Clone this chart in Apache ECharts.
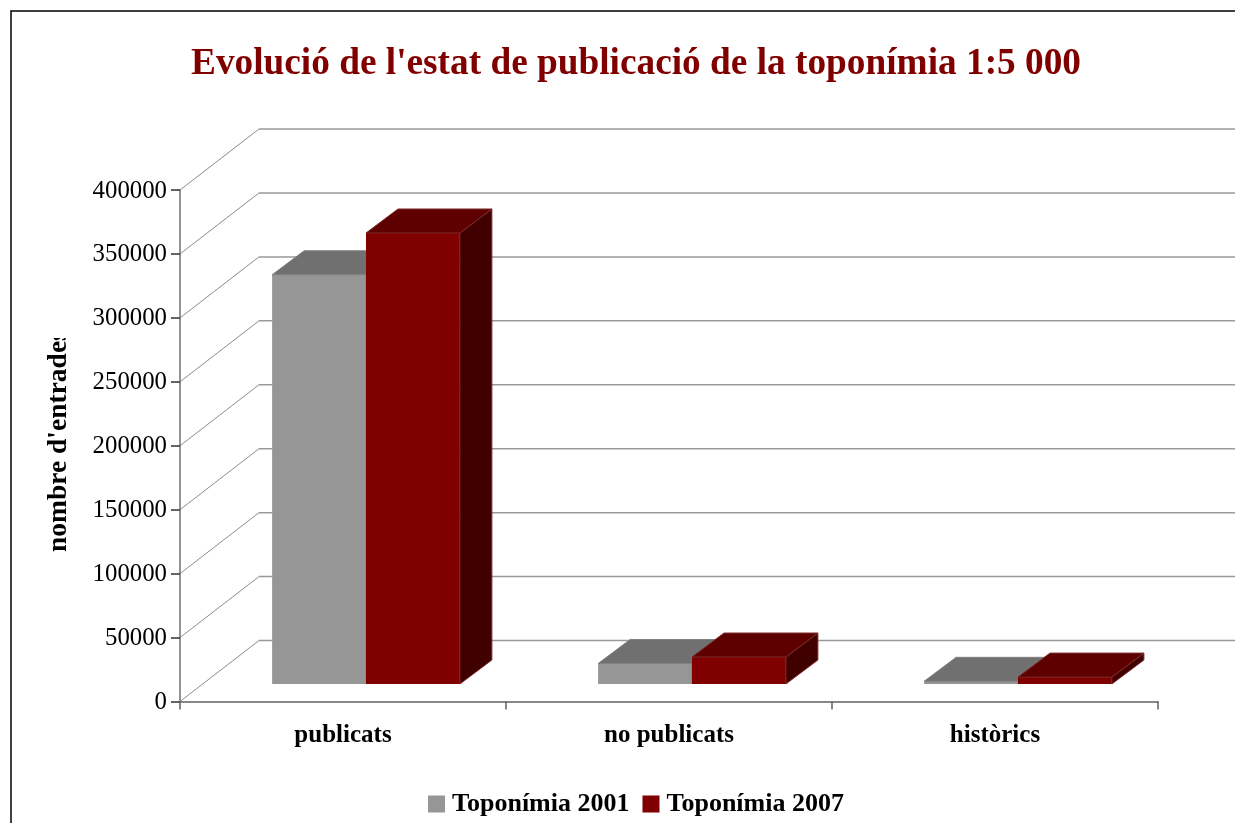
<!DOCTYPE html>
<html>
<head>
<meta charset="utf-8">
<style>
  html, body { margin: 0; padding: 0; background: #fff; overflow: hidden; }
  #chart { width: 1235px; height: 823px; }
</style>
<script src="https://cdn.jsdelivr.net/npm/echarts@6/dist/echarts.min.js"></script>
</head>
<body>
<div id="chart"></div>
<script>
const categories = ["publicats", "no publicats", "històrics"];
const toponimia2001 = [320000, 16000, 2100];
const toponimia2007 = [352700, 21100, 5400];
const yTicks = [0, 50000, 100000, 150000, 200000, 250000, 300000, 350000, 400000];

const serif = "'Liberation Serif', 'Times New Roman', serif";

// fake 3D: the back wall sits up and to the right of the axes
const wallDx = 79, wallDy = -61;
const barDx = 32, barDy = -24;
const shiftX = 23, shiftY = -17.5;

function poly(points, fill, stroke) {
  return {
    type: "polygon",
    shape: { points: points },
    style: { fill: fill, stroke: stroke, lineWidth: 1 },
  };
}

function renderWall(params, api) {
  const y = api.coord([0, api.value(1)])[1];
  const x0 = params.coordSys.x;
  const x1 = x0 + params.coordSys.width;
  return {
    type: "group",
    children: [
      {
        type: "line",
        shape: { x1: x0, y1: y, x2: x0 + wallDx, y2: y + wallDy },
        style: { stroke: "#8c8c8c", lineWidth: 1 },
      },
      {
        type: "line",
        shape: { x1: x0 + wallDx, y1: y + wallDy, x2: x1 + wallDx, y2: y + wallDy },
        style: { stroke: "#999999", lineWidth: 1.5 },
      },
    ],
  };
}

function barRenderer(slot, colors) {
  return function (params, api) {
    const top = api.coord([api.value(0), api.value(1)]);
    const base = api.coord([api.value(0), 0]);
    const w = api.size([1, 0])[0] * 0.288;
    const left = top[0] + shiftX + (slot - 1) * w;
    const right = left + w;
    const yt = top[1] + shiftY;
    const yb = base[1] + shiftY;
    return {
      type: "group",
      children: [
        {
          type: "rect",
          shape: { x: left, y: yt, width: w, height: yb - yt },
          style: { fill: colors.front },
        },
        poly([[right, yt], [right + barDx, yt + barDy], [right + barDx, yb + barDy], [right, yb]], colors.side, colors.edge),
        poly([[left, yt], [left + barDx, yt + barDy], [right + barDx, yt + barDy], [right, yt]], colors.top, colors.edge),
      ],
    };
  };
}

const grayFaces = { front: "#969696", top: "#707070", side: "#4b4b4b", edge: "#808080" };
const redFaces = { front: "#800000", top: "#5e0000", side: "#400000", edge: "#7a2a2a" };

const chart = echarts.init(document.getElementById("chart"));
chart.setOption({
  animation: false,
  backgroundColor: "#fff",
  title: {
    text: "Evolució de l'estat de publicació de la toponímia 1:5 000",
    left: 186,
    top: 41,
    textStyle: { fontFamily: serif, fontSize: 37.3, fontWeight: "bold", color: "#800000" },
  },
  grid: { left: 180, right: 77, top: 190, bottom: 121.5 },
  legend: {
    data: ["Toponímia 2001", "Toponímia 2007"],
    left: 423,
    top: 786,
    icon: "rect",
    itemWidth: 17,
    itemHeight: 17,
    itemGap: 13,
    textStyle: { fontFamily: serif, fontSize: 26, fontWeight: "bold", color: "#000", padding: [2, 0, 0, 2] },
  },
  xAxis: {
    type: "category",
    data: categories,
    axisLine: { lineStyle: { color: "#606060", width: 1.5 } },
    axisTick: { show: true, alignWithLabel: false, length: 8, lineStyle: { color: "#606060", width: 1.5 } },
    axisLabel: { fontFamily: serif, fontSize: 25, fontWeight: "bold", color: "#000", margin: 22 },
  },
  yAxis: {
    type: "value",
    min: 0,
    max: 400000,
    interval: 50000,
    axisLine: { show: true, lineStyle: { color: "#707070", width: 1.5 } },
    axisTick: { show: true, length: 9, lineStyle: { color: "#303030", width: 1.5 } },
    axisLabel: {
      fontFamily: serif,
      fontSize: 24.8,
      color: "#000",
      margin: 13,
      verticalAlign: "top",
      lineHeight: 2,
      formatter: (v) => String(v),
    },
    splitLine: { show: false },
  },
  series: [
    {
      name: "wall",
      type: "custom",
      z: 1,
      silent: true,
      renderItem: renderWall,
      data: yTicks.map((t) => [0, t]),
      encode: { x: 0, y: 1 },
    },
    {
      name: "Toponímia 2001",
      type: "custom",
      z: 2,
      itemStyle: { color: "#969696" },
      renderItem: barRenderer(0, grayFaces),
      data: toponimia2001.map((v, i) => [i, v]),
      encode: { x: 0, y: 1 },
    },
    {
      name: "Toponímia 2007",
      type: "custom",
      z: 3,
      itemStyle: { color: "#800000" },
      renderItem: barRenderer(1, redFaces),
      data: toponimia2007.map((v, i) => [i, v]),
      encode: { x: 0, y: 1 },
    },
  ],
  graphic: [
    {
      // page frame: only the top and left edges show in the picture
      type: "polyline",
      z: 100,
      silent: true,
      shape: { points: [[11, 830], [11, 11], [1240, 11]] },
      style: { fill: null, stroke: "#000", lineWidth: 1.5 },
    },
    {
      type: "text",
      z: 100,
      silent: true,
      x: 59,
      y: 552,
      rotation: Math.PI / 2,
      style: {
        text: "nombre d'entrades",
        fill: "#000",
        font: "bold 27.5px " + serif,
        textAlign: "left",
        textVerticalAlign: "middle",
      },
    },
    {
      // the axis title is cut off at the top in the original
      type: "rect",
      z: 101,
      silent: true,
      shape: { x: 44, y: 318, width: 34, height: 20 },
      style: { fill: "#fff" },
    },
  ],
});
</script>
</body>
</html>
